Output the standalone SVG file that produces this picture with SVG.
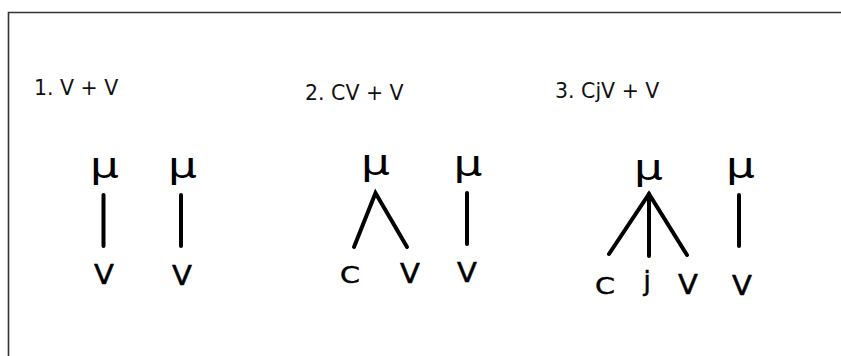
<svg xmlns="http://www.w3.org/2000/svg" width="841" height="356" viewBox="0 0 841 356">
  <style>
    .frame { fill: none; stroke: #333; stroke-width: 1.6; }
    .title { font-family: "DejaVu Sans", "Liberation Sans", sans-serif; font-size: 20.5px; fill: #111; }
    .mu { font-family: "DejaVu Sans", sans-serif; font-size: 35px; fill: #000; text-anchor: middle; }
    .seg { font-family: "DejaVu Sans", sans-serif; font-size: 26px; fill: #000; stroke: #000; stroke-width: 0.5; text-anchor: middle; }
    .edge { fill: none; stroke: #000; stroke-width: 4; stroke-linecap: round; stroke-linejoin: miter; }
  </style>
  <rect width="841" height="356" fill="#fff"/>
  <path class="frame" d="M8.5 356 V12.5 H841"/>

  <!-- Titles -->
  <text class="title" x="34" y="95">1. V + V</text>
  <text class="title" x="305" y="100">2. CV + V</text>
  <text class="title" x="555" y="98">3. CjV + V</text>

  <!-- Connectors -->
  <g id="connectors">
    <line class="edge" x1="103.5" y1="195" x2="103.5" y2="246"/>
    <line class="edge" x1="181" y1="195" x2="181" y2="246"/>
    <polyline class="edge" points="354,247 375.5,193 407,247"/>
    <line class="edge" x1="467" y1="193" x2="467" y2="244"/>
    <polyline class="edge" points="609,254 649,194 687,255"/>
    <line class="edge" x1="649" y1="194" x2="649" y2="256"/>
    <line class="edge" x1="739" y1="195" x2="739" y2="246"/>
  </g>

  <!-- Case 1: V + V -->
  <g id="mu1"><text class="mu" transform="translate(104.5 177.5) scale(1.3 1)">μ</text></g>
  <g id="v1"><text class="seg" transform="translate(104 284) scale(1.12 1)">V</text></g>
  <g id="mu2"><text class="mu" transform="translate(182.5 177.5) scale(1.3 1)">μ</text></g>
  <g id="v2"><text class="seg" transform="translate(182 285) scale(1.12 1)">V</text></g>

  <!-- Case 2: CV + V -->
  <g id="mu3"><text class="mu" transform="translate(375.5 174.5) scale(1.3 1)">μ</text></g>
  <g id="c3"><text class="seg" transform="translate(350 283) scale(1.1 0.9)">C</text></g>
  <g id="v3"><text class="seg" transform="translate(410 283) scale(1.12 1)">V</text></g>
  <g id="mu4"><text class="mu" transform="translate(468 175.5) scale(1.3 1)">μ</text></g>
  <g id="v4"><text class="seg" transform="translate(467 281.5) scale(1.12 1)">V</text></g>

  <!-- Case 3: CjV + V -->
  <g id="mu5"><text class="mu" transform="translate(648.5 179.5) scale(1.3 1)">μ</text></g>
  <g id="c5"><text class="seg" transform="translate(605 294) scale(1.1 0.9)">C</text></g>
  <g id="j5"><text class="seg" x="647" y="290">j</text></g>
  <g id="v5"><text class="seg" transform="translate(688 294) scale(1.12 1)">V</text></g>
  <g id="mu6"><text class="mu" transform="translate(740.5 177.5) scale(1.3 1)">μ</text></g>
  <g id="v6"><text class="seg" transform="translate(742 295) scale(1.12 1)">V</text></g>
</svg>
